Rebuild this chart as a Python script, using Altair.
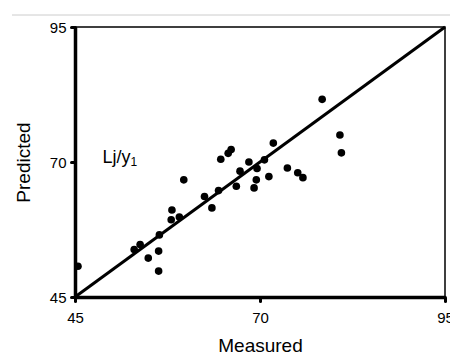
import altair as alt
import pandas as pd

measured = [45.4, 53.0, 53.8, 54.9, 56.3, 56.3, 56.4, 58.1, 58.0, 59.1, 59.7, 62.5,
            63.5, 64.4, 64.7, 65.7, 66.1, 66.8, 67.3, 68.5, 69.2, 69.5, 69.6, 70.6,
            71.2, 71.8, 73.7, 75.1, 75.8, 78.4, 80.8, 81.0]
predicted = [50.7, 53.8, 54.7, 52.2, 53.5, 49.8, 56.5, 61.1, 59.3, 59.8, 66.7, 63.6,
             61.5, 64.7, 70.5, 71.6, 72.3, 65.5, 68.3, 70.0, 65.2, 66.7, 68.8, 70.4,
             67.3, 73.5, 68.9, 68.0, 67.1, 81.6, 75.0, 71.7]
line_vals = [45, 95]
ticks = [45, 70, 95]

FONT = "Liberation Sans"

pts = pd.DataFrame({"Measured": measured, "Predicted": predicted})
diag = pd.DataFrame({"Measured": line_vals, "Predicted": line_vals})

xs = alt.Scale(domain=[45, 95], nice=False, zero=False)
ys = alt.Scale(domain=[45, 95], nice=False, zero=False)

x_axis = alt.Axis(values=ticks, title="Measured", grid=False, labelFlush=False,
                  labelOverlap=False, domainColor="black", domainWidth=3.5,
                  tickColor="black", tickWidth=3, tickSize=4, tickCap="round",
                  labelFont=FONT, labelFontSize=15, labelColor="black", labelPadding=9,
                  titleFont=FONT, titleFontSize=19, titleFontWeight="normal",
                  titleColor="black", titlePadding=11)
y_axis = alt.Axis(values=ticks, title="Predicted", grid=False, labelFlush=False,
                  labelOverlap=False, domainColor="black", domainWidth=3.5,
                  tickColor="black", tickWidth=3, tickSize=4, tickCap="round",
                  labelFont=FONT, labelFontSize=15, labelColor="black", labelPadding=5,
                  titleFont=FONT, titleFontSize=19, titleFontWeight="normal",
                  titleColor="black", titlePadding=16)

line = alt.Chart(diag).mark_line(color="black", strokeWidth=3, clip=False).encode(
    x=alt.X("Measured:Q", scale=xs, axis=x_axis),
    y=alt.Y("Predicted:Q", scale=ys, axis=y_axis),
)

points = alt.Chart(pts).mark_circle(color="black", opacity=1, size=58).encode(
    x=alt.X("Measured:Q", scale=xs),
    y=alt.Y("Predicted:Q", scale=ys),
)

label = alt.Chart(pd.DataFrame({"t": ["Lj/y"]})).mark_text(
    font=FONT, fontSize=18, align="left", baseline="alphabetic", color="black"
).encode(x=alt.datum(48.7), y=alt.datum(69.8), text="t:N")

sub = alt.Chart(pd.DataFrame({"t": ["1"]})).mark_text(
    font=FONT, fontSize=12, align="left", baseline="alphabetic", color="black", dx=28, dy=3
).encode(x=alt.datum(48.7), y=alt.datum(69.8), text="t:N")

topline = alt.Chart(pd.DataFrame({"a": [0]})).mark_rule(color="#cccccc", strokeWidth=1).encode(
    x=alt.value(-63), x2=alt.value(380), y=alt.value(-12)
)

chart = alt.layer(topline, line, points, label, sub).properties(
    width=370, height=270,
    autosize=alt.AutoSizeParams(type="none"),
    padding={"left": 75, "top": 27, "right": 5, "bottom": 66},
    background="white",
).configure_view(stroke="black", strokeWidth=1.5)

chart.save("out.html", embed_options={"renderer": "svg", "actions": False})
